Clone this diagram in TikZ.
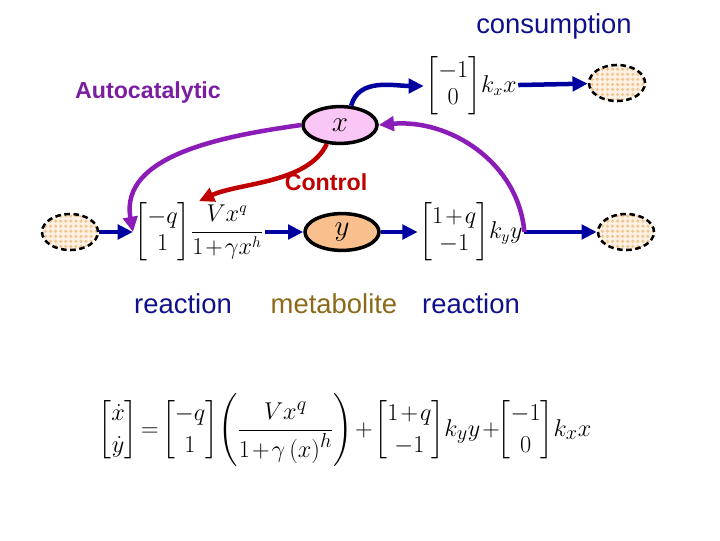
\documentclass[tikz,border=0pt]{standalone}
\usepackage{amsmath}
\usepackage{fontspec}
\setsansfont{Liberation Sans}
\usetikzlibrary{arrows.meta,positioning,shapes.geometric,patterns}
\definecolor{fluxblue}{HTML}{0000A0}
\definecolor{autopurple}{HTML}{8C1CB8}
\definecolor{ctrlred}{HTML}{C00000}
\definecolor{labelnavy}{HTML}{10108C}
\definecolor{metolive}{HTML}{8B6A1A}
\definecolor{autotext}{HTML}{7B1FA2}
\definecolor{metpink}{HTML}{F9C6F5}
\definecolor{metpeach}{HTML}{F9C08E}
\definecolor{checklight}{HTML}{FDF1E4}
\definecolor{checkdark}{HTML}{F2C693}
\newcommand{\tightmath}{\medmuskip=1.5mu\thickmuskip=2.5mu\relax}
\pgfdeclarepatternformonly{diamond dots}{\pgfqpoint{-1.3pt}{-1.3pt}}{\pgfqpoint{1.3pt}{1.3pt}}{\pgfqpoint{3.6pt}{3.6pt}}{%
  \pgfpathmoveto{\pgfqpoint{0pt}{-1.25pt}}%
  \pgfpathlineto{\pgfqpoint{1.25pt}{0pt}}%
  \pgfpathlineto{\pgfqpoint{0pt}{1.25pt}}%
  \pgfpathlineto{\pgfqpoint{-1.25pt}{0pt}}%
  \pgfpathclose\pgfusepath{fill}}
\tikzset{
  pool/.style={
    ellipse,
    draw=black,
    line width=2.5pt,
    minimum width=1.85cm,
    minimum height=0.92cm,
    inner sep=0pt,
    font=\fontsize{20}{22}\selectfont
  },
  poolx/.style={pool, fill=metpink},
  pooly/.style={pool, fill=metpeach},
  sinkpool/.style={
    ellipse,
    draw=black,
    line width=1.8pt,
    dash pattern=on 4pt off 2.5pt,
    minimum width=1.4cm,
    minimum height=0.9cm,
    inner sep=0pt,
    preaction={fill=checklight},
    pattern=diamond dots,
    pattern color=checkdark
  },
  ratebox/.style={inner sep=1pt, font=\fontsize{16}{19}\selectfont\tightmath},
  flowlabel/.style={font=\sffamily\fontsize{19.5}{22}\selectfont, text=labelnavy},
  effectlabel/.style={font=\sffamily\bfseries\fontsize{16.5}{19}\selectfont},
  fluxarrow/.style={-{Triangle[length=3.8mm,width=3.6mm]}, line width=3.2pt, draw=fluxblue},
  autoarrow/.style={fluxarrow, draw=autopurple},
  ctrlarrow/.style={fluxarrow, draw=ctrlred}
}
\begin{document}
\begin{tikzpicture}[x=0.025cm, y=-0.025cm]
\useasboundingbox (0,0) rectangle (720,540);
% metabolite pools
\node[poolx] (x) at (340,125) {$x$};
\node[pooly] (y) at (342,232) {$y$};
\node[sinkpool] (src) at (70,232) {};
\node[sinkpool] (sinkx) at (617,83) {};
\node[sinkpool] (sinky) at (626,232) {};
% rate terms
\node[ratebox] (rxn) at (199,232) {$\begin{bmatrix}-q\\1\end{bmatrix}\!\dfrac{Vx^{q}}{1+\gamma x^{h}}$};
\node[ratebox] (cons) at (471,86) {$\begin{bmatrix}-1\\0\end{bmatrix}\!k_{x}x$};
\node[ratebox] (deg) at (471,232) {$\begin{bmatrix}1+q\\-1\end{bmatrix}\!k_{y}y$};
% labels
\node[flowlabel] (lblcons) at (554,26) {consumption};
\node[effectlabel, text=autotext] (lblauto) at (148,92) {Autocatalytic};
\node[effectlabel, text=ctrlred] (lblctrl) at (326,182) {Control};
\node[flowlabel] (lblrxn) at (183,304) {reaction};
\node[flowlabel, text=metolive] (lblmet) at (334,304) {metabolite};
\node[flowlabel] (lbldeg) at (471,304) {reaction};
% balance equation
\node[font=\fontsize{19}{23}\selectfont\tightmath] (eqn) at (345,430) {$\begin{bmatrix}\dot{x}\\\dot{y}\end{bmatrix}=\begin{bmatrix}-q\\1\end{bmatrix}\!\left(\dfrac{Vx^{q}}{1+\gamma\left(x\right)^{h}}\right)+\begin{bmatrix}1+q\\-1\end{bmatrix}\!k_{y}y+\!\begin{bmatrix}-1\\0\end{bmatrix}\!k_{x}x$};
% fluxes
\draw[fluxarrow] (src) -- (rxn);
\draw[fluxarrow] (rxn) -- (y);
\draw[fluxarrow] (y) -- (deg);
\draw[fluxarrow] (deg) -- (sinky);
\draw[fluxarrow] (x.60) to[out=75,in=180] (cons.west);
\draw[fluxarrow] (cons) -- (sinkx);
% effects
\draw[autoarrow] (x.west) to[out=188,in=100] (rxn.west);
\draw[autoarrow] (deg.east) to[out=95,in=5] (x.east);
\draw[ctrlarrow] (x.235) to[out=-115,in=25,looseness=0.8] (rxn.north);
\end{tikzpicture}
\end{document}
